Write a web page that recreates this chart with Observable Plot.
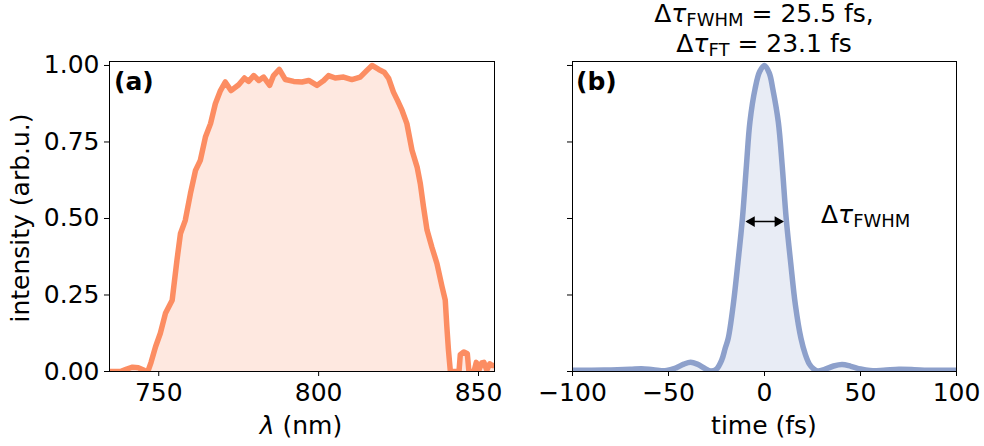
<!DOCTYPE html>
<html><head><meta charset="utf-8">
<script src="https://cdn.jsdelivr.net/npm/d3@7"></script>
<script src="https://cdn.jsdelivr.net/npm/@observablehq/plot@0.6"></script>
<style>
body{margin:0;background:#fff;}
#wrap{position:relative;width:984px;height:446px;overflow:hidden;font-family:"DejaVu Sans";}
#wrap svg{position:absolute;top:0;overflow:visible;}
</style></head><body><div id="wrap"></div>
<script>
// ---- data ----
const wavelength = [734.6,738.0,740.0,741.8,743.6,745.6,746.6,747.6,749.0,750.5,752.1,754.2,755.7,756.8,758.3,759.9,761.5,763.0,764.6,766.2,767.7,769.3,770.8,772.6,775.0,776.8,778.1,779.7,781.3,782.8,784.7,785.9,787.7,789.6,792.2,794.8,796.9,799.5,801.6,803.1,805.2,807.8,810.4,813.0,815.1,816.7,818.8,820.5,821.9,823.4,824.7,826.1,827.6,829.2,830.8,831.8,832.8,833.9,835.4,837.0,838.6,839.6,840.1,840.6,841.2,843.9,844.3,845.4,846.5,847.0,848.6,849.3,850.1,851.0,851.7,852.6,853.5,854.2,855.0];
const spectrum = [0,0,0.008,0.014,0.012,0.003,0,0.03,0.081,0.125,0.19,0.233,0.364,0.451,0.494,0.581,0.657,0.690,0.766,0.810,0.875,0.918,0.946,0.918,0.937,0.959,0.948,0.967,0.951,0.962,0.935,0.967,0.987,0.954,0.948,0.946,0.951,0.935,0.951,0.967,0.959,0.962,0.954,0.962,0.984,1.0,0.987,0.978,0.958,0.913,0.885,0.853,0.810,0.723,0.668,0.614,0.538,0.462,0.407,0.353,0.277,0.233,0.146,0.070,0,0,0.055,0.064,0.058,0,0,0.03,0.004,0.028,0.03,0.004,0.025,0.02,0.02];
const time = [-100,-90,-80,-70,-64,-58,-51,-46,-42,-38.5,-35,-31,-28,-25,-22.3,-20.5,-18.9,-16.3,-13.8,-11.5,-9.4,-7.6,-4.9,-2.5,0,2.5,4.3,7.2,9.2,11.3,13.6,16.1,19.0,21.3,23.3,25.6,27.6,31,36,40.4,45,50,55,62,70,78,85,100];
const pulse = [0.004,0.004,0.005,0.007,0.009,0.006,0.003,0.012,0.024,0.030,0.024,0.010,0.002,0.008,0.037,0.075,0.108,0.217,0.358,0.50,0.674,0.815,0.924,0.98,1.0,0.975,0.924,0.815,0.674,0.50,0.358,0.217,0.108,0.055,0.025,0.008,0.002,0.006,0.018,0.023,0.017,0.008,0.003,0.004,0.007,0.006,0.004,0.004];
const xTicksA = [750, 800, 850];
const xTicksB = [-100, -50, 0, 50, 100];
const yTicks = [0, 0.25, 0.5, 0.75, 1.0];
const arrowLine = [-9.0, 9.2];     // fs, double-arrow line ends
const arrowHeads = [-6.7, 6.9];    // fs, arrowhead centres
const arrowY = 0.49;
const panelLabels = ["(a)", "(b)"];
const fwhmValue = "25.5 fs", ftValue = "23.1 fs";

const specData = wavelength.map((w, i) => ({x: w, y: spectrum[i]}));
const pulseData = time.map((t, i) => ({x: t, y: pulse[i]}));

const orange = "#fc8d62", blue = "#8da0cb";
const FS = 25;
const common = {
  height: 446, marginTop: 61, marginBottom: 75,
  y: {domain: [0, 1.013]},
  style: {fontSize: FS + "px", fontFamily: "DejaVu Sans", color: "black", background: "transparent", overflow: "visible"}
};

const wrap = document.getElementById("wrap");

const plotA = Plot.plot({
  ...common,
  width: 530, marginLeft: 109, marginRight: 36,
  x: {domain: [734.6, 855]},
  marks: [
    Plot.areaY(specData, {x: "x", y: "y", fill: orange, fillOpacity: 0.2, clip: true}),
    Plot.line(specData, {x: "x", y: "y", stroke: orange, strokeWidth: 5.5, strokeLinejoin: "round", clip: true}),
    Plot.frame({stroke: "black", strokeWidth: 1}),
    Plot.axisX({ticks: xTicksA, tickSize: 5, tickPadding: 7, label: null, tickFormat: d3.format("d")}),
    Plot.axisY({ticks: yTicks, tickSize: 5, tickPadding: 5, label: null, tickFormat: d3.format(".2f")})
  ]
});
plotA.style.left = "0px";
wrap.appendChild(plotA);

const plotB = Plot.plot({
  ...common,
  width: 484, marginLeft: 72, marginRight: 28,
  x: {domain: [-100, 100]},
  marks: [
    Plot.areaY(pulseData, {x: "x", y: "y", fill: blue, fillOpacity: 0.2, curve: "catmull-rom", clip: true}),
    Plot.line(pulseData, {x: "x", y: "y", stroke: blue, strokeWidth: 5.5, curve: "catmull-rom", clip: true}),
    Plot.link([0], {x1: () => arrowLine[0], x2: () => arrowLine[1], y1: () => arrowY, y2: () => arrowY, stroke: "black", strokeWidth: 1.5}),
    Plot.dot(arrowHeads, {x: d => d, y: () => arrowY, symbol: "triangle", r: 4, fill: "black", stroke: "none", rotate: d => d < 0 ? -90 : 90}),
    Plot.frame({stroke: "black", strokeWidth: 1}),
    Plot.axisX({ticks: xTicksB, tickSize: 5, tickPadding: 7, label: null}),
    Plot.axisY({ticks: yTicks, tickSize: 5, label: null, tickFormat: () => ""})
  ]
});
plotB.style.left = "500px";
wrap.appendChild(plotB);

// ---- overlay text ----
const ov = d3.select(wrap).append("svg")
  .attr("width", 984).attr("height", 446)
  .style("left", "0px").style("pointer-events", "none")
  .attr("font-family", "DejaVu Sans").attr("font-size", FS).attr("fill", "black");

function tau(textSel, subscript, rest) {
  textSel.append("tspan").text("Δ");
  textSel.append("tspan").attr("font-style", "italic").text("τ");
  textSel.append("tspan").attr("font-size", 18).attr("dy", 4).text(subscript);
  textSel.append("tspan").attr("dy", -4).text(rest);
}
tau(ov.append("text").attr("x", 764).attr("y", 22).attr("text-anchor", "middle"), "FWHM", " = " + fwhmValue + ",");
tau(ov.append("text").attr("x", 764).attr("y", 52).attr("text-anchor", "middle"), "FT", " = " + ftValue);
tau(ov.append("text").attr("x", 821).attr("y", 223), "FWHM", "");

ov.append("text").attr("x", 114).attr("y", 90).attr("font-weight", "bold").text(panelLabels[0]);
ov.append("text").attr("x", 576).attr("y", 90).attr("font-weight", "bold").text(panelLabels[1]);

const xl = ov.append("text").attr("x", 301).attr("y", 434).attr("text-anchor", "middle");
xl.append("tspan").attr("font-style", "italic").text("λ");
xl.append("tspan").text(" (nm)");
ov.append("text").attr("x", 764).attr("y", 434).attr("text-anchor", "middle").text("time (fs)");
ov.append("text").attr("transform", "translate(29,218) rotate(-90)").attr("text-anchor", "middle").text("intensity (arb.u.)");
</script>
</body></html>
